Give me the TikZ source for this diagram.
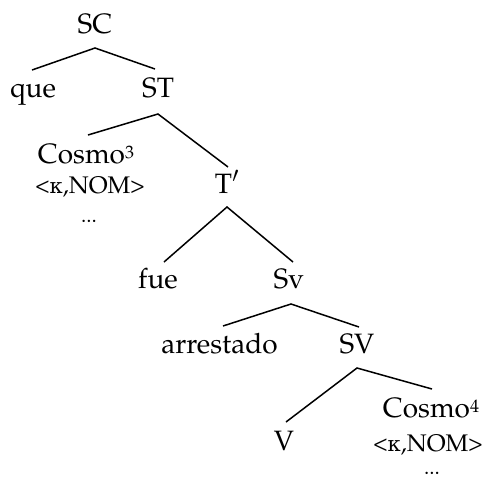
\documentclass[tikz,border=0pt]{standalone}
\usepackage{fontspec}
\newfontfamily\grk{DejaVu Serif}
\usepackage[T1]{fontenc}
\usepackage{mathpazo}
\newcommand{\supnum}[1]{\raisebox{5pt}{\fontsize{18}{20}\selectfont #1}}
\newcommand{\kap}{{\grk\fontsize{21}{24}\selectfont κ}}
\begin{document}
\begin{tikzpicture}[x=1pt,y=-1pt,
  lab/.style={anchor=base,inner sep=0pt,font=\fontsize{28}{30}\selectfont},
  sub/.style={anchor=base,inner sep=0pt,font=\fontsize{24}{26}\selectfont},
  dts/.style={anchor=base,inner sep=0pt,font=\fontsize{21}{23}\selectfont},
  br/.style={line width=1.5pt}]
\useasboundingbox (0,0) rectangle (490,480);
% nodes
\node[lab] (SC) at (95,33) {SC};
\node[lab] (que) at (33,97) {que};
\node[lab] (ST) at (158,97) {ST};
\node[lab] (cos3) at (86,163) {Cosmo\supnum{3}};
\node[sub] (f3) at (90,193) {<\kap,NOM>};
\node[dts] (d3) at (89,222) {...};
\node[lab] (Tb) at (227,193) {T$'$};
\node[lab] (fue) at (158,288) {fue};
\node[lab] (Sv) at (289,288) {Sv};
\node[lab] (arr) at (219.5,353) {arrestado};
\node[lab] (SV) at (357,353) {SV};
\node[lab] (V) at (284,450) {V};
\node[lab] (cos4) at (431,417) {Cosmo\supnum{4}};
\node[sub] (f4) at (428,451) {<\kap,NOM>};
\node[dts] (d4) at (432,474) {...};
% branch points
\coordinate (aSC) at (95,48);
\coordinate (eque) at (32,70);
\coordinate (eST) at (155,69);
\coordinate (aST) at (158,114);
\coordinate (ecos3) at (88,135);
\coordinate (eTb) at (228,167);
\coordinate (aTb) at (227,207);
\coordinate (efue) at (164,262);
\coordinate (eSv) at (293,262);
\coordinate (aSv) at (291,304);
\coordinate (earr) at (223,326);
\coordinate (eSV) at (359,327);
\coordinate (aSV) at (357,368);
\coordinate (eV) at (286,422);
\coordinate (ecos4) at (432,389);
% branches
\draw[br] (eque) -- (aSC) -- (eST);
\draw[br] (ecos3) -- (aST) -- (eTb);
\draw[br] (efue) -- (aTb) -- (eSv);
\draw[br] (earr) -- (aSv) -- (eSV);
\draw[br] (eV) -- (aSV) -- (ecos4);
\end{tikzpicture}
\end{document}
